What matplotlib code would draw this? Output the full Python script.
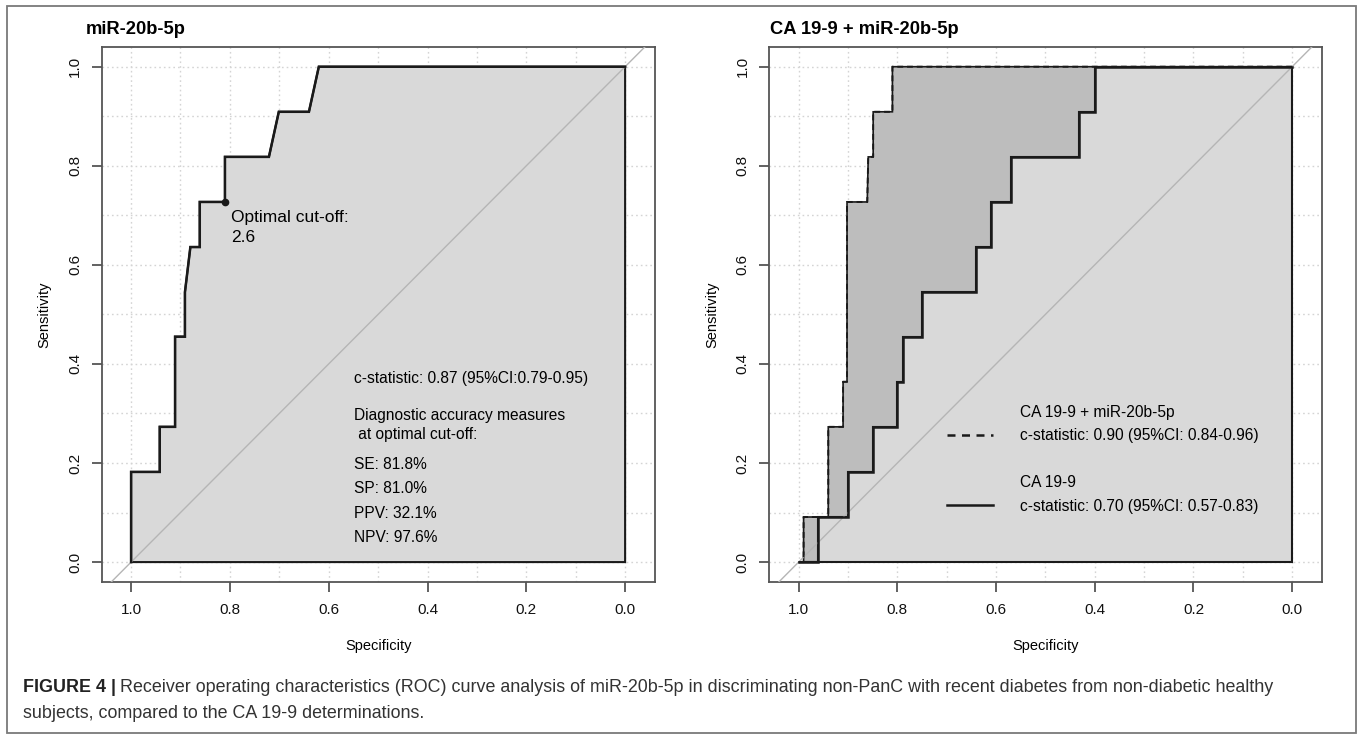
import matplotlib
matplotlib.use("Agg")
import matplotlib.pyplot as plt
from matplotlib.lines import Line2D
from matplotlib.patches import Polygon, Rectangle
import numpy as np

plt.rcParams['font.family'] = ['Liberation Sans', 'DejaVu Sans']

# ---------------- data ----------------
# Left panel: miR-20b-5p ROC curve (specificity, sensitivity)
mir_spec = [1.0, 1.0, 0.942, 0.942, 0.911, 0.911, 0.891, 0.891, 0.880, 0.861, 0.861,
            0.810, 0.810, 0.721, 0.701, 0.640, 0.620, 0.0]
mir_sens = [0.0, 0.182, 0.182, 0.273, 0.273, 0.455, 0.455, 0.545, 0.636, 0.636, 0.727,
            0.727, 0.818, 0.818, 0.909, 0.909, 1.0, 1.0]
opt_spec, opt_sens = 0.810, 0.727

# Right panel: CA 19-9 + miR-20b-5p (combined) ROC curve
combo_spec = [1.0, 0.990, 0.990, 0.940, 0.940, 0.910, 0.910, 0.902, 0.902, 0.861, 0.859,
              0.849, 0.849, 0.810, 0.810, 0.0]
combo_sens = [0.0, 0.0, 0.091, 0.091, 0.273, 0.273, 0.364, 0.364, 0.727, 0.727, 0.818,
              0.818, 0.909, 0.909, 1.0, 1.0]
# Right panel: CA 19-9 ROC curve
ca_spec = [1.0, 0.960, 0.960, 0.900, 0.900, 0.849, 0.849, 0.801, 0.801, 0.789, 0.789,
           0.750, 0.750, 0.641, 0.641, 0.610, 0.610, 0.569, 0.569, 0.431, 0.431, 0.400,
           0.400, 0.0]
ca_sens = [0.0, 0.0, 0.091, 0.091, 0.182, 0.182, 0.273, 0.273, 0.364, 0.364, 0.455,
           0.455, 0.545, 0.545, 0.636, 0.636, 0.727, 0.727, 0.818, 0.818, 0.909, 0.909,
           1.0, 1.0]

x_ticks = [1.0, 0.8, 0.6, 0.4, 0.2, 0.0]
y_ticks = [0.0, 0.2, 0.4, 0.6, 0.8, 1.0]
tick_labels = ["1.0", "0.8", "0.6", "0.4", "0.2", "0.0"]
ytick_labels = ["0.0", "0.2", "0.4", "0.6", "0.8", "1.0"]

left_title = "miR-20b-5p"
right_title = "CA 19-9 + miR-20b-5p"
left_stat = "c-statistic: 0.87 (95%CI:0.79-0.95)"
left_measures = ["SE: 81.8%", "SP: 81.0%", "PPV: 32.1%", "NPV: 97.6%"]
combo_label = "CA 19-9 + miR-20b-5p"
combo_stat = "c-statistic: 0.90 (95%CI: 0.84-0.96)"
ca_label = "CA 19-9"
ca_stat = "c-statistic: 0.70 (95%CI: 0.57-0.83)"

# ---------------- style ----------------
W, H = 1360, 734
LIGHT = "#d9d9d9"
DARK = "#bdbdbd"
LINEC = "#1a1a1a"
SPINE = "#555555"

fig = plt.figure(figsize=(W / 100, H / 100), dpi=100)
fig.patch.set_facecolor("white")

# outer frame
fig.patches.append(Rectangle((7 / W, 1 - 732.5 / H), (1356 - 7) / W, (732.5 - 6) / H,
                             transform=fig.transFigure, fill=False,
                             edgecolor="#7a7a7a", lw=1.3))

ax_bottom = 1 - 581.7 / H
ax_height = (581.7 - 47.3) / H
axL = fig.add_axes([101.7 / W, ax_bottom, (655 - 101.7) / W, ax_height])
axR = fig.add_axes([769.3 / W, ax_bottom, (1322 - 769.3) / W, ax_height])


def style_axes(ax):
    ax.set_xlim(1.0595, -0.0605)
    ax.set_ylim(-0.0396, 1.0392)
    for s in ax.spines.values():
        s.set_color(SPINE)
        s.set_linewidth(1.3)
    grid = np.round(np.arange(0, 1.01, 0.1), 1)
    for g in grid:
        ax.axvline(g, color="#d4d4d4", lw=1.0, ls=(0, (1.2, 2.2)), zorder=0)
        ax.axhline(g, color="#d4d4d4", lw=1.0, ls=(0, (1.2, 2.2)), zorder=0)
    ax.set_xticks(x_ticks)
    ax.set_xticklabels(tick_labels, fontsize=11)
    ax.set_yticks(y_ticks)
    ax.set_yticklabels(ytick_labels, fontsize=11, rotation=90, va="center")
    ax.tick_params(axis="both", length=7.2, width=1.3, color=SPINE, labelcolor="#111111")
    ax.tick_params(axis="x", pad=8)
    ax.tick_params(axis="y", pad=7)
    ax.set_xlabel("Specificity", fontsize=10.5, labelpad=16)
    ax.set_ylabel("Sensitivity", fontsize=10.5, labelpad=12)
    # diagonal reference line
    ax.plot([1.1, -0.1], [-0.1, 1.1], color="#b5b5b5", lw=1.0, zorder=4)


style_axes(axL)
style_axes(axR)

# ---- left panel ----
polyL = Polygon(np.column_stack([mir_spec + [0.0], mir_sens + [0.0]]), closed=True,
                facecolor=LIGHT, edgecolor=LINEC, lw=1.5, zorder=2)
axL.add_patch(polyL)
axL.plot(mir_spec, mir_sens, color=LINEC, lw=1.8, zorder=5, solid_joinstyle="miter")
axL.plot([opt_spec], [opt_sens], "o", color=LINEC, ms=4.5, zorder=6)
axL.text(0.797, 0.695, "Optimal cut-off:", fontsize=12.5, va="center", ha="left", zorder=7)
axL.text(0.797, 0.655, "2.6", fontsize=12.5, va="center", ha="left", zorder=7)

tx = 0.549
axL.text(tx, 0.370, left_stat, fontsize=11.2, va="center", ha="left", zorder=7)
axL.text(tx, 0.296, "Diagnostic accuracy measures", fontsize=11.2, va="center", ha="left", zorder=7)
axL.text(tx, 0.258, " at optimal cut-off:", fontsize=11.2, va="center", ha="left", zorder=7)
for yv, s in zip([0.198, 0.149, 0.098, 0.050], left_measures):
    axL.text(tx, yv, s, fontsize=11.2, va="center", ha="left", zorder=7)

# ---- right panel ----
polyC = Polygon(np.column_stack([combo_spec + [0.0], combo_sens + [0.0]]), closed=True,
                facecolor=DARK, edgecolor=LINEC, lw=1.2, zorder=2)
axR.add_patch(polyC)
polyCA = Polygon(np.column_stack([ca_spec + [0.0], ca_sens + [0.0]]), closed=True,
                 facecolor=LIGHT, edgecolor=LINEC, lw=1.5, zorder=3)
axR.add_patch(polyCA)
axR.plot(combo_spec, combo_sens, color=LINEC, lw=1.4, ls=(0, (3, 2)), zorder=5)
axR.plot(ca_spec, ca_sens, color=LINEC, lw=1.8, zorder=5, solid_joinstyle="miter")

blank = Line2D([], [], color="none")
h_combo = Line2D([], [], color=LINEC, lw=1.8, ls=(0, (3.2, 2.6)))
h_ca = Line2D([], [], color=LINEC, lw=1.8)
leg = axR.legend([blank, h_combo, blank, blank, h_ca],
                 [combo_label, combo_stat, "", ca_label, ca_stat],
                 loc="upper left", bbox_to_anchor=(0.700, 0.318),
                 bbox_transform=axR.transData, frameon=False, fontsize=11.2,
                 borderpad=0, borderaxespad=0, handlelength=3.0,
                 handletextpad=1.7, labelspacing=0.55)
leg.set_zorder(8)

# titles
fig.text(86 / W, 1 - 30 / H, left_title, fontsize=13.2, fontweight="bold",
         ha="left", va="center")
fig.text(770 / W, 1 - 30 / H, right_title, fontsize=13.2, fontweight="bold",
         ha="left", va="center")

# caption
fig.canvas.draw()
r = fig.canvas.get_renderer()
cap_fs = 12.9
b = fig.text(22.7 / W, 1 - 688 / H, "FIGURE 4 |", fontsize=cap_fs, fontweight="bold",
             ha="left", va="center", color="#222222")
bb = b.get_window_extent(renderer=r)
fig.text((bb.x1 + 4) / W, 1 - 688 / H,
         "Receiver operating characteristics (ROC) curve analysis of miR-20b-5p in "
         "discriminating non-PanC with recent diabetes from non-diabetic healthy",
         fontsize=cap_fs, ha="left", va="center", color="#333333")
fig.text(22.7 / W, 1 - 713 / H, "subjects, compared to the CA 19-9 determinations.",
         fontsize=cap_fs, ha="left", va="center", color="#333333")

fig.savefig("out.png", dpi=100)
